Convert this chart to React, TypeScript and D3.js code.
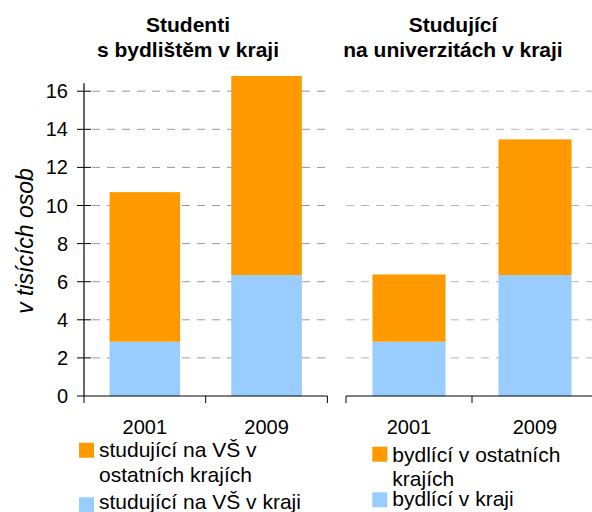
import React from "react";
import * as d3 from "d3";

const years = ["2001", "2009"];
const leftInRegion = [2.85, 6.35];
const leftOtherRegions = [7.85, 10.45];
const rightInRegion = [2.85, 6.35];
const rightOtherRegions = [3.53, 7.12];
const yTicks = [0, 2, 4, 6, 8, 10, 12, 14, 16];
const leftTitle = ["Studenti", "s bydlištěm v kraji"];
const rightTitle = ["Studující", "na univerzitách v kraji"];
const leftLegend = [["studující na VŠ v", "ostatních krajích"], ["studující na VŠ v kraji"]];
const rightLegend = [["bydlící v ostatních", "krajích"], ["bydlící v kraji"]];
const yLabel = "v tisících osob";

const ORANGE = "#FF9900";
const BLUE = "#99CCFF";
const FONT = "'Liberation Sans', Arial, sans-serif";

export default function App() {
  const y = d3.scaleLinear().domain([0, 16]).range([396, 91.2]);
  const xL = d3.scaleBand().domain(years).range([84, 327.4]).paddingInner(0.42).paddingOuter(0.21);
  const xR = d3.scaleBand().domain(years).range([346, 598]).paddingInner(0.42).paddingOuter(0.21);

  const panel = (
    x: d3.ScaleBand<string>,
    inReg: number[],
    other: number[],
    gridStart: number,
    gridEnd: number,
    gridColor: string
  ) => {
    const [r0, r1] = x.range();
    const step = x.step();
    return (
      <g>
        {yTicks.filter((t) => t > 0).map((t) => (
          <line key={"g" + t} x1={gridStart} x2={gridEnd} y1={y(t)} y2={y(t)}
            stroke={gridColor} strokeWidth={1} strokeDasharray="8,7" />
        ))}
        {years.map((yr, i) => (
          <g key={yr}>
            <rect x={x(yr)} width={x.bandwidth()} y={y(inReg[i])} height={y(0) - y(inReg[i])} fill={BLUE} />
            <rect x={x(yr)} width={x.bandwidth()} y={y(inReg[i] + other[i])}
              height={y(inReg[i]) - y(inReg[i] + other[i])} fill={ORANGE} />
          </g>
        ))}
        <line x1={r0} x2={r1} y1={y(0)} y2={y(0)} stroke="#000" strokeWidth={1.2} />
        {[0, 1, 2].map((k) => (
          <line key={"t" + k} x1={r0 + k * step} x2={r0 + k * step} y1={y(0)} y2={y(0) + 7} stroke="#000" strokeWidth={1} />
        ))}
        {years.map((yr) => (
          <text key={"l" + yr} x={(x(yr) as number) + x.bandwidth() / 2} y={434} textAnchor="middle"
            fontSize={20} fontFamily={FONT} fill="#000">{yr}</text>
        ))}
      </g>
    );
  };

  const legend = (items: string[][], sx: number, tops: number[], lineH: number, base0: number[]) => (
    <g>
      {items.map((lines, i) => (
        <g key={i}>
          <rect x={sx} y={tops[i]} width={15} height={15} fill={i === 0 ? ORANGE : BLUE} />
          {lines.map((ln, j) => (
            <text key={j} x={sx + 20} y={base0[i] + j * lineH} fontSize={21} fontFamily={FONT} fill="#000">{ln}</text>
          ))}
        </g>
      ))}
    </g>
  );

  return (
    <svg width={592} height={512} style={{ position: "absolute", left: 0, top: 0, background: "#fff" }}>
      <rect width={592} height={512} fill="#fff" />
      {leftTitle.map((t, i) => (
        <text key={"lt" + i} x={188} y={31.7 + i * 25.6} textAnchor="middle" fontSize={21} fontWeight="bold" fontFamily={FONT}>{t}</text>
      ))}
      {rightTitle.map((t, i) => (
        <text key={"rt" + i} x={453} y={31.7 + i * 25.6} textAnchor="middle" fontSize={21} fontWeight="bold" fontFamily={FONT}>{t}</text>
      ))}
      {panel(xL, leftInRegion, leftOtherRegions, 92, 327, "#999")}
      {panel(xR, rightInRegion, rightOtherRegions, 346, 592, "#b5b5b5")}
      {/* y axis */}
      <line x1={84} x2={84} y1={y(16) - 8} y2={y(0)} stroke="#000" strokeWidth={1.2} />
      {yTicks.map((t) => (
        <g key={"yt" + t}>
          <line x1={77} x2={t === 0 ? 84 : 91} y1={y(t)} y2={y(t)} stroke="#000" strokeWidth={1} />
          <text x={68} y={y(t)} dy="0.35em" textAnchor="end" fontSize={20} fontFamily={FONT}>{t}</text>
        </g>
      ))}
      <text transform={`translate(33,241) rotate(-90)`} textAnchor="middle" fontSize={23} fontStyle="italic" fontFamily={FONT}>{yLabel}</text>
      {legend(leftLegend, 79, [442.7, 497.3], 25, [456.7, 509])}
      {legend(rightLegend, 372.3, [446.7, 492.3], 24.3, [461.7, 506])}
    </svg>
  );
}
